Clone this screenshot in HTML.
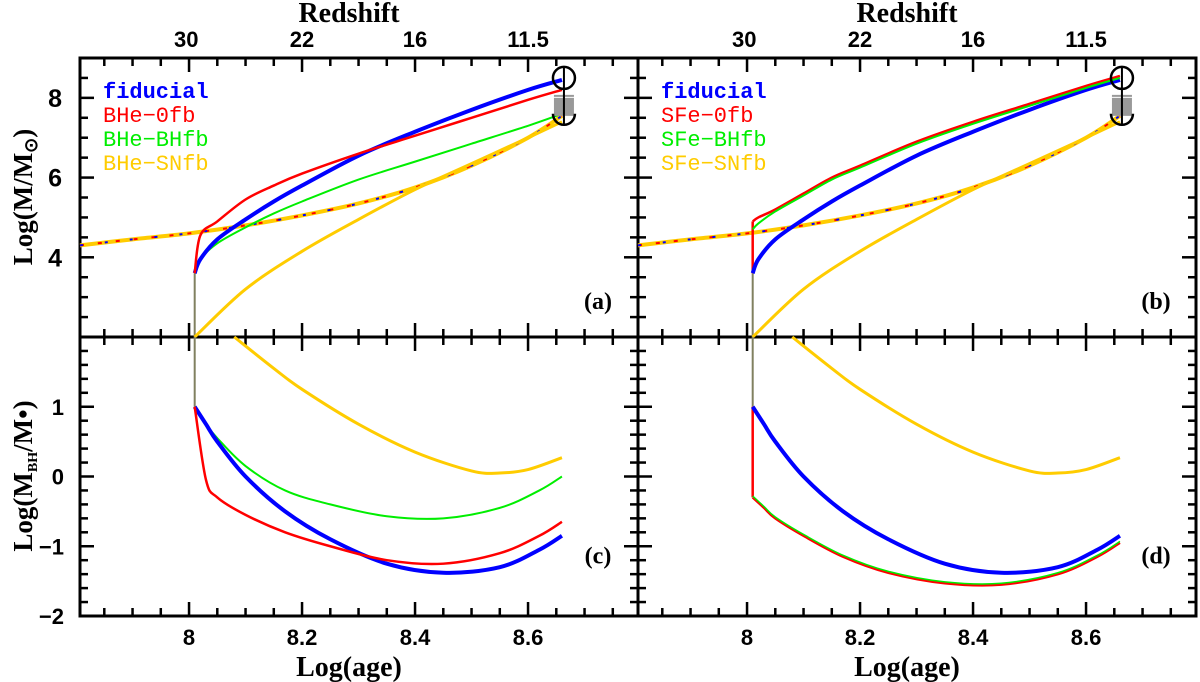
<!DOCTYPE html>
<html><head><meta charset="utf-8"><style>
body{margin:0;background:#fff}
svg{display:block}
text{font-family:"Liberation Sans",sans-serif;font-weight:bold;fill:#000}
.ser{font-family:"Liberation Serif",serif}
.leg{font-family:"Liberation Mono","Liberation Serif",monospace;font-weight:normal;font-size:22px}
</style></head><body>
<svg id="c" width="1200" height="682" viewBox="0 0 1200 682" xmlns="http://www.w3.org/2000/svg"></svg>
<script>
// ---- data ----
const topAge = [8.01,8.02,8.05,8.1,8.15,8.2,8.3,8.4,8.5,8.6,8.66];
const fidTop = [3.6,3.95,4.45,4.95,5.4,5.8,6.55,7.15,7.7,8.2,8.45];
const bheZeroTop = [3.6,4.55,4.9,5.45,5.8,6.1,6.6,7.05,7.5,7.95,8.2];
const bheBhTop = [3.6,3.95,4.35,4.75,5.1,5.4,5.95,6.4,6.85,7.3,7.6];
const sfeZeroTop = [4.9,5.0,5.2,5.6,6.0,6.3,6.9,7.4,7.85,8.3,8.55];
const sfeBhTop = [4.7,4.85,5.15,5.55,5.95,6.25,6.85,7.35,7.8,8.25,8.5];
const snAge = [8.01,8.1,8.2,8.3,8.4,8.5,8.6,8.66];
const snTop = [2.0,3.2,4.15,4.95,5.7,6.35,7.0,7.4];
const dashAge = [7.807,7.9,8.0,8.1,8.2,8.3,8.4,8.5,8.6,8.66];
const dashTop = [4.3,4.45,4.6,4.8,5.05,5.35,5.75,6.3,7.0,7.55];
const botAge = [8.01,8.03,8.05,8.1,8.17,8.25,8.35,8.45,8.55,8.62,8.66];
const fidBot = [1.0,0.75,0.5,0.0,-0.5,-0.9,-1.25,-1.38,-1.3,-1.05,-0.85];
const bheZeroBot = [1.0,-0.05,-0.3,-0.55,-0.8,-1.0,-1.2,-1.25,-1.1,-0.85,-0.65];
const bheBhBot = [1.0,0.75,0.55,0.15,-0.2,-0.4,-0.57,-0.6,-0.45,-0.2,0.0];
const sfeBot = [-0.3,-0.45,-0.6,-0.85,-1.15,-1.38,-1.53,-1.55,-1.4,-1.15,-0.95];
const snBotAge = [8.08,8.15,8.2,8.3,8.4,8.5,8.55,8.6,8.66];
const snBot = [2.0,1.55,1.25,0.75,0.35,0.08,0.05,0.1,0.27];
const zLabels = ["30","22","16","11.5"];
const zAges = [7.995,8.2,8.4,8.6];
const xLabels = [8,8.2,8.4,8.6];
// ---- layout ----
const svg=document.getElementById('c');const NS='http://www.w3.org/2000/svg';
function el(t,a,par){const e=document.createElementNS(NS,t);for(const k in a)e.setAttribute(k,a[k]);(par||svg).appendChild(e);return e;}
const X0=[80,638],W=558,yT=58,yM=337,yB=616;
const xs=(p,v)=>X0[p]+(v-7.807)*565;
const yt=v=>yT+(9-v)*39.86;
const yb=v=>yM+(2-v)*69.75;
function path(p,ax,ay,yf,col,w,name,dash){
  const pts=ax.map((a,i)=>[xs(p,a),yf(ay[i])]);
  let d='M'+pts[0][0]+','+pts[0][1];
  for(let i=0;i<pts.length-1;i++){const p0=pts[i-1]||pts[i],p1=pts[i],p2=pts[i+1],p3=pts[i+2]||p2;
    d+=` C${p1[0]+(p2[0]-p0[0])/6},${p1[1]+(p2[1]-p0[1])/6} ${p2[0]-(p3[0]-p1[0])/6},${p2[1]-(p3[1]-p1[1])/6} ${p2[0]},${p2[1]}`;}
  const e=el('path',{d:d,fill:'none',stroke:col,'stroke-width':w});
  if(dash)e.setAttribute('stroke-dasharray',dash);
  
  
  return e;
}
function vline(p,a,y1,y2,col,w,name){const e=el('line',{x1:xs(p,a),x2:xs(p,a),y1:y1,y2:y2,stroke:col,'stroke-width':w});
  }
const tickG=el('g',{});


function tick(x,y,w,h){el('rect',{x:x,y:y,width:w,height:h,fill:'#000'},tickG);}
const B='#0000ff',R='#ff0000',G='#00ee00',Y='#ffcc00';
for(let p=0;p<2;p++){
  const L=p?'SFe':'BHe';
  for(let i=0;i<19;i++){const v=7.85+i*0.05;const x=xs(p,v)-1.25;const maj=(Math.round(v*100)%20===0);const l=maj?14:8;
    tick(x,yT,2.5,l);tick(x,yM,2.5,l);tick(x,yM-l,2.5,l);tick(x,yB-l,2.5,l);}
  for(let i=1;i<14;i++){const v=2+i*0.5;const y=yt(v)-1.25;const l=(i%4===0)?14:8;
    tick(X0[p],y,l,2.5);tick(X0[p]+W-l,y,l,2.5);}
  for(let i=1;i<20;i++){const v=-2+i*0.2;const y=yb(v)-1.25;const l=(i%5===0)?14:8;
    tick(X0[p],y,l,2.5);tick(X0[p]+W-l,y,l,2.5);}
  const fr=el('rect',{x:X0[p],y:yT,width:W,height:yB-yT,fill:'none',stroke:'#000','stroke-width':3});
  
  el('line',{x1:X0[p],x2:X0[p]+W,y1:yM,y2:yM,stroke:'#000','stroke-width':3});
  xLabels.forEach(v=>{const t=el('text',{x:xs(p,v),y:645,'text-anchor':'middle','font-size':22});t.textContent=v;
    });
  zLabels.forEach((s,i)=>{const t=el('text',{x:xs(p,zAges[i]),y:47,'text-anchor':'middle','font-size':22});t.textContent=s;
    });
  const xt=el('text',{x:X0[p]+W/2-10,y:676,'text-anchor':'middle','font-size':28,class:'ser'});xt.textContent='Log(age)';
  
  const zt=el('text',{x:X0[p]+W/2-10,y:22,'text-anchor':'middle','font-size':28,class:'ser'});zt.textContent='Redshift';
  
  if(p===0){
    [4,6,8].forEach(v=>{const t=el('text',{x:62,y:yt(v)+9,'text-anchor':'end','font-size':25});t.textContent=v;
      });
    [-2,-1,0,1].forEach(v=>{const t=el('text',{x:64,y:yb(v)+8,'text-anchor':'end','font-size':22});t.textContent=v<0?'\u2212'+(-v):v;
      });
    const a=el('text',{transform:'translate(32,197) rotate(-90)','text-anchor':'middle','font-size':27,class:'ser'});
    a.innerHTML='Log(M/M<tspan font-size="18" dy="5">\u2299</tspan><tspan dy="-5">)</tspan>';
    
    const b=el('text',{transform:'translate(32,476) rotate(-90)','text-anchor':'middle','font-size':27,class:'ser'});
    b.innerHTML='Log(M<tspan font-size="14" dy="5">BH</tspan><tspan dy="-5">/M\u2022)</tspan>';
    
  }
  const pl=el('text',{x:X0[p]+W-40,y:yt(2.7),'text-anchor':'middle','font-size':24,class:'ser'});pl.textContent=p?'(b)':'(a)';
  
  const pl2=el('text',{x:X0[p]+W-40,y:yb(-1.25),'text-anchor':'middle','font-size':24,class:'ser'});pl2.textContent=p?'(d)':'(c)';
  
  [['fiducial',B],[L+'\u2212'+'0fb',R],[L+'\u2212BHfb',G],[L+'\u2212SNfb',Y]].forEach((e,i)=>{
    const t=el('text',{x:X0[p]+23,y:98+i*24,class:'leg'});t.style.fill=e[1];t.style.fontWeight=i===0?'bold':'normal';t.textContent=e[0];
    });
  path(p,dashAge,dashTop,yt,Y,4,'merged-dashed-line');
  path(p,dashAge,dashTop,yt,R,2,'merged-dashed-overlay','4 14');
  path(p,dashAge,dashTop,yt,B,2,'merged-dashed-overlay2','3 22');
  vline(p,8.01,yt(2),yt(3.6),'#808060',2,'vertical-start');
  path(p,snAge,snTop,yt,Y,3,'snfb-top');
  if(p===0){path(p,topAge,bheBhTop,yt,G,2,'bhfb-top');path(p,topAge,fidTop,yt,B,4,'fiducial-top');path(p,topAge,bheZeroTop,yt,R,2.5,'zerofb-top');}
  else{vline(p,8.01,yt(3.6),yt(4.9),R,2.5,'zerofb-jump');path(p,topAge,fidTop,yt,B,4,'fiducial-top');path(p,topAge,sfeZeroTop,yt,R,2.5,'zerofb-top');path(p,topAge,sfeBhTop,yt,G,2,'bhfb-top');}
  vline(p,8.01,yM,yb(1),'#808060',2,'vertical-start-bottom');
  path(p,snBotAge,snBot,yb,Y,3,'snfb-bottom');
  if(p===0){path(p,botAge,bheBhBot,yb,G,2,'bhfb-bottom');path(p,botAge,fidBot,yb,B,4,'fiducial-bottom');path(p,botAge,bheZeroBot,yb,R,2.5,'zerofb-bottom');}
  else{vline(p,8.01,yb(1),yb(-0.3),R,2.5,'zerofb-drop');path(p,botAge,fidBot,yb,B,4,'fiducial-bottom');path(p,botAge,sfeBot,yb,R,2.5,'zerofb-bottom');path(p,botAge,sfeBot.map(v=>v+0.02),yb,G,1.5,'bhfb-bottom');}
  const ox=xs(p,8.66)+2;
  const sq=el('rect',{x:ox-10,y:yt(8.0),width:20,height:18,fill:'#999'});
  el('line',{x1:ox-10,x2:ox+10,y1:yt(8.05),y2:yt(8.05),stroke:'#999','stroke-width':2});
  el('line',{x1:ox,x2:ox,y1:yt(8.1),y2:yt(7.4),stroke:'#999','stroke-width':2});
  const c1=el('circle',{cx:ox,cy:yt(8.5),r:11,fill:'none',stroke:'#000','stroke-width':2.5});
  el('path',{d:`M${ox-11},${yt(7.6)} A11 11 0 0 0 ${ox+11},${yt(7.6)}`,fill:'none',stroke:'#000','stroke-width':2.5});
  el('line',{x1:ox,x2:ox,y1:yt(8.75),y2:yt(7.3),stroke:'#000','stroke-width':2});
}
</script>
</body></html>
